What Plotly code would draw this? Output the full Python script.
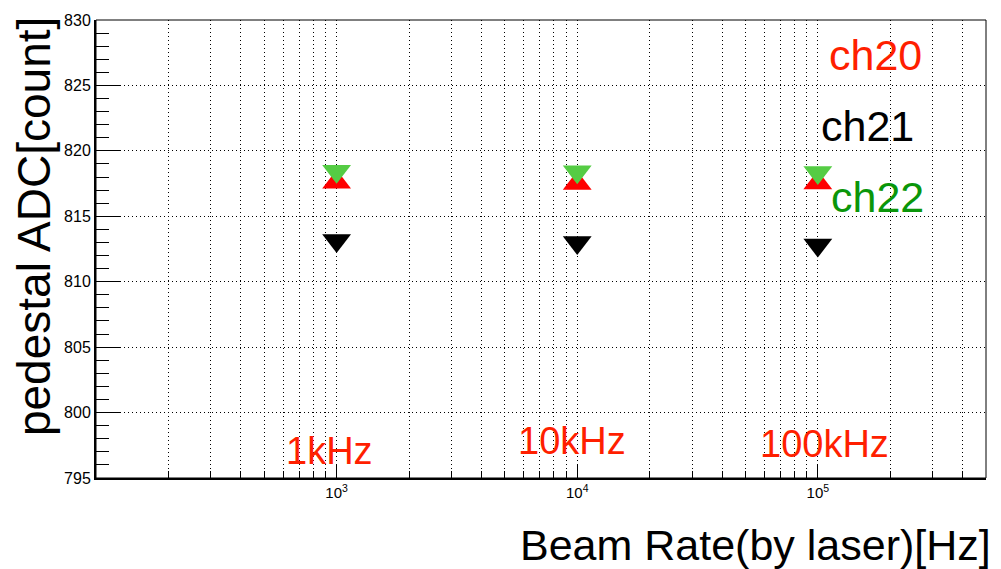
import plotly.graph_objects as go

# Beam rate settings (Hz) and pedestal means per channel
beam_rate = [1e3, 1e4, 1e5]
ch20 = [817.6, 817.5, 817.55]
ch21 = [813.15, 813.0, 812.8]
ch22 = [818.45, 818.4, 818.35]

rate_labels = ["1kHz", "10kHz", "100kHz"]
decade_ticks = [1e3, 1e4, 1e5]
decade_text = ["10<sup>3</sup>", "10<sup>4</sup>", "10<sup>5</sup>"]
minor_ticks = [m * 10 ** e for e in (2, 3, 4) for m in range(2, 10)] + [2e5, 3e5, 4e5]

FONT = "Liberation Sans, Arial, Helvetica, sans-serif"
RED = "#ff1f00"
GREEN_TXT = "#0a960a"
MSIZE = 25
GRID_DASH = "1.4px,2.6px"

fig = go.Figure()
fig.add_trace(go.Scatter(x=beam_rate, y=ch20, mode="markers", name="ch20",
                         marker=dict(symbol="triangle-up", size=MSIZE, color="#ff0000",
                                     line=dict(width=0))))
fig.add_trace(go.Scatter(x=beam_rate, y=ch21, mode="markers", name="ch21",
                         marker=dict(symbol="triangle-down", size=MSIZE, color="#000000",
                                     line=dict(width=0))))
fig.add_trace(go.Scatter(x=beam_rate, y=ch22, mode="markers", name="ch22",
                         marker=dict(symbol="triangle-down", size=MSIZE, color="#55cc44",
                                     line=dict(width=0))))

annotations = []
# channel labels
for txt, col, x, y in [("ch20", RED, 0.876, 0.9236),
                       ("ch21", "#000000", 0.8674, 0.7686),
                       ("ch22", GREEN_TXT, 0.878, 0.6146)]:
    annotations.append(dict(text=txt, xref="paper", yref="paper", x=x, y=y,
                            xanchor="center", yanchor="middle", showarrow=False,
                            font=dict(family=FONT, size=43, color=col)))
# beam rate labels
for txt, x, y in zip(rate_labels, [0.2618, 0.5343, 0.8185], [0.0579, 0.0797, 0.0753]):
    annotations.append(dict(text=txt, xref="paper", yref="paper", x=x, y=y,
                            xanchor="center", yanchor="middle", showarrow=False,
                            font=dict(family=FONT, size=38, color=RED)))
# axis titles
annotations.append(dict(text="pedestal ADC[count]", xref="paper", yref="paper",
                        x=-0.0697, y=0.550, textangle=-90, xanchor="center",
                        yanchor="middle", showarrow=False,
                        font=dict(family=FONT, size=46, color="#000000")))
annotations.append(dict(text="Beam Rate(by laser)[Hz]", xref="paper", yref="paper",
                        x=1.0079, y=-0.146, xanchor="right", yanchor="middle",
                        showarrow=False,
                        font=dict(family=FONT, size=43, color="#000000")))

fig.update_layout(
    width=1001, height=569,
    margin=dict(l=96, r=15, t=20, b=91),
    paper_bgcolor="white", plot_bgcolor="white",
    showlegend=False,
    font=dict(family=FONT, color="#000000"),
    annotations=annotations,
    shapes=[dict(type="rect", xref="paper", yref="paper", x0=0, x1=1, y0=0, y1=1,
                 line=dict(color="#000000", width=1), layer="above")],
)

fig.update_xaxes(
    type="log", range=[2, 5.69897],
    tickmode="array", tickvals=decade_ticks, ticktext=decade_text,
    ticks="inside", ticklen=13, tickwidth=1, tickcolor="#000000",
    tickfont=dict(family=FONT, size=15, color="#000000"),
    showgrid=True, gridcolor="#000000", gridwidth=1, griddash=GRID_DASH,
    minor=dict(tickmode="array", tickvals=minor_ticks, ticks="inside", ticklen=7,
               tickwidth=1, tickcolor="#000000", showgrid=True,
               gridcolor="#000000", gridwidth=1, griddash=GRID_DASH),
    showline=True, linecolor="#000000", linewidth=2, mirror=False,
    zeroline=False,
)
fig.update_yaxes(
    range=[795, 830], tick0=795, dtick=5,
    ticks="inside", ticklen=25, tickwidth=1, tickcolor="#000000",
    tickfont=dict(family=FONT, size=16, color="#000000"),
    showgrid=True, gridcolor="#000000", gridwidth=1, griddash=GRID_DASH,
    minor=dict(dtick=1, ticks="inside", ticklen=13, tickwidth=1,
               tickcolor="#000000", showgrid=False),
    showline=True, linecolor="#000000", linewidth=2, mirror=False,
    zeroline=False,
)

fig.write_html("out.html")
